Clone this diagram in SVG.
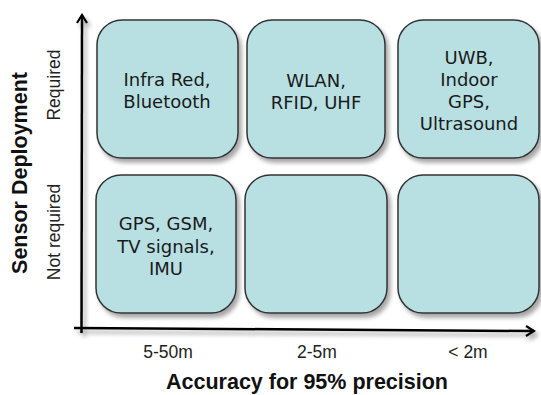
<svg xmlns="http://www.w3.org/2000/svg" width="541" height="395" viewBox="0 0 541 395">
<defs>
<filter id="sh" x="-10%" y="-10%" width="130%" height="130%">
<feDropShadow dx="3" dy="4" stdDeviation="2.2" flood-color="#000" flood-opacity="0.35"/>
</filter>
<marker id="arr" viewBox="0 0 12 12" refX="10" refY="6" markerWidth="12" markerHeight="12" markerUnits="userSpaceOnUse" orient="auto">
<path d="M2,1 L10,6 L2,11" fill="none" stroke="#000" stroke-width="2.2"/>
</marker>
<style>
.box{fill:#b8e0e2;stroke:#333;stroke-width:1.5;filter:url(#sh)}
.bt{font-family:"DejaVu Sans",Verdana,sans-serif;font-size:18px;fill:#1a1a1a;text-anchor:middle}
.tick{font-family:"Liberation Sans",Arial,sans-serif;font-size:17.5px;fill:#222;text-anchor:middle}
.title{font-family:"Liberation Sans",Arial,sans-serif;font-size:21.5px;font-weight:bold;fill:#111;text-anchor:middle}
.axis{stroke:#000;stroke-width:2.5;fill:none}
</style>
</defs>
<rect width="541" height="395" fill="#fff"/>
<g id="connectors" filter="url(#sh)">
<line class="axis" x1="81.5" y1="333" x2="82" y2="15" marker-end="url(#arr)"/>
<line class="axis" x1="74" y1="328" x2="534" y2="331" marker-end="url(#arr)"/>
</g>
<g id="n1"><rect class="box" x="97" y="20" width="141" height="138" rx="25"/>
<text class="bt" x="167" y="86">Infra Red,</text><text class="bt" x="167" y="108">Bluetooth</text></g>
<g id="n2"><rect class="box" x="247" y="20" width="138" height="138" rx="25"/>
<text class="bt" x="316" y="87">WLAN,</text><text class="bt" x="316" y="109">RFID, UHF</text></g>
<g id="n3"><rect class="box" x="398" y="20" width="141" height="138" rx="25"/>
<text class="bt" x="469" y="64">UWB,</text><text class="bt" x="469" y="86">Indoor</text><text class="bt" x="469" y="108">GPS,</text><text class="bt" x="469" y="130">Ultrasound</text></g>
<g id="n4"><rect class="box" x="96" y="175" width="140" height="138" rx="25"/>
<text class="bt" x="166" y="230">GPS, GSM,</text><text class="bt" x="166" y="252.5">TV signals,</text><text class="bt" x="166" y="275">IMU</text></g>
<g id="n5"><rect class="box" x="245" y="175" width="142" height="138" rx="25"/></g>
<g id="n6"><rect class="box" x="398" y="175" width="141" height="138" rx="25"/></g>
<g id="labels">
<text class="tick" x="168" y="358">5-50m</text>
<text class="tick" x="317" y="358">2-5m</text>
<text class="tick" x="468" y="358">&lt; 2m</text>
<text class="title" x="307" y="389">Accuracy for 95% precision</text>
<text class="title" transform="translate(27,173) rotate(-90)">Sensor Deployment</text>
<text class="tick" transform="translate(60,85) rotate(-90)">Required</text>
<text class="tick" transform="translate(60,232) rotate(-90)">Not required</text>
</g>
</svg>
